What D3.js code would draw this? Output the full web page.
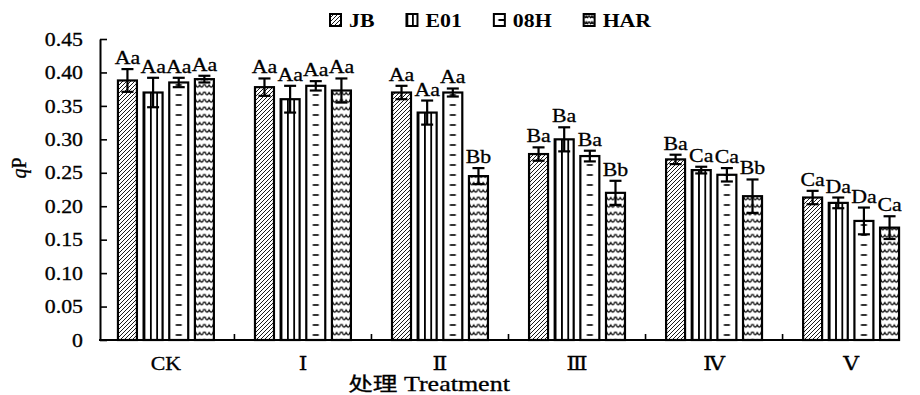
<!DOCTYPE html>
<html>
<head>
<meta charset="utf-8">
<script src="https://cdn.jsdelivr.net/npm/d3@7/dist/d3.min.js"></script>
<style>
  html, body { margin: 0; padding: 0; background: #fff; }
  svg { display: block; }
</style>
</head>
<body>
<svg id="chart" width="920" height="395"></svg>
<script>
// ---- data ----
const categories = ["CK", "Ⅰ", "Ⅱ", "Ⅲ", "Ⅳ", "Ⅴ"];
const seriesNames = ["JB", "E01", "08H", "HAR"];

const jbMean  = [0.388, 0.378, 0.370, 0.278, 0.270, 0.213];
const jbErr   = [0.017, 0.013, 0.010, 0.010, 0.007, 0.010];
const jbSig   = ["Aa", "Aa", "Aa", "Ba", "Ba", "Ca"];

const e01Mean = [0.370, 0.360, 0.340, 0.300, 0.254, 0.205];
const e01Err  = [0.022, 0.020, 0.018, 0.018, 0.005, 0.008];
const e01Sig  = ["Aa", "Aa", "Aa", "Ba", "Ca", "Da"];

const h08Mean = [0.385, 0.380, 0.370, 0.275, 0.247, 0.178];
const h08Err  = [0.007, 0.007, 0.006, 0.008, 0.010, 0.020];
const h08Sig  = ["Aa", "Aa", "Aa", "Ba", "Ca", "Da"];

const harMean = [0.390, 0.373, 0.245, 0.220, 0.215, 0.168];
const harErr  = [0.005, 0.018, 0.012, 0.018, 0.025, 0.017];
const harSig  = ["Aa", "Aa", "Bb", "Bb", "Bb", "Ca"];

const yTicks = [0, 0.05, 0.10, 0.15, 0.20, 0.25, 0.30, 0.35, 0.40, 0.45];
const yTitle = ["q", "P"];
const xTitleCn = "处理";
const xTitleEn = "Treatment";

// ---- setup ----
const seriesData = {
  "JB":  {mean: jbMean,  err: jbErr,  sig: jbSig},
  "E01": {mean: e01Mean, err: e01Err, sig: e01Sig},
  "08H": {mean: h08Mean, err: h08Err, sig: h08Sig},
  "HAR": {mean: harMean, err: harErr, sig: harSig}
};

const serif = "'Liberation Serif', 'Times New Roman', 'DejaVu Serif', serif";
const SX = 1.18; // horizontal stretch of the text in the reference

const svg = d3.select("#chart");
const defs = svg.append("defs");

const y = d3.scaleLinear().domain([0, 0.45]).range([340, 39]);
const x0 = d3.scaleBand().domain(categories).range([100, 917])
  .paddingInner(0.3).paddingOuter(0.131);
const x1 = d3.scaleBand().domain(seriesNames).range([0, x0.bandwidth()])
  .paddingInner(0.26);

const rows = [];
categories.forEach((c, i) => {
  seriesNames.forEach(s => {
    const d = seriesData[s];
    rows.push({cat: c, s: s, i: i, mean: d.mean[i], err: d.err[i], sig: d.sig[i]});
  });
});

// ---- patterns ----
(function () {
  const p = defs.append("pattern").attr("id", "pJB")
    .attr("patternUnits", "userSpaceOnUse").attr("width", 4).attr("height", 4);
  p.append("rect").attr("width", 4).attr("height", 4).attr("fill", "#fff");
  p.append("path").attr("d", "M0,4 L4,0 M-1,1 L1,-1 M3,5 L5,3")
    .attr("stroke", "#000").attr("stroke-width", 0.9);
})();

function makePattern(id, s, bx, bw, small) {
  if (s === "E01") {
    const w = small ? bw / 2 : bw / 3;
    const p = defs.append("pattern").attr("id", id)
      .attr("patternUnits", "userSpaceOnUse").attr("x", bx).attr("y", 0)
      .attr("width", w).attr("height", 10);
    p.append("rect").attr("width", w).attr("height", 10).attr("fill", "#fff");
    p.append("rect").attr("x", 0).attr("width", 1.8).attr("height", 10).attr("fill", "#000");
  } else if (s === "08H") {
    const h = small ? 12 : 10;
    const p = defs.append("pattern").attr("id", id)
      .attr("patternUnits", "userSpaceOnUse").attr("x", bx).attr("y", small ? 14 : 0)
      .attr("width", bw).attr("height", h);
    p.append("rect").attr("width", bw).attr("height", h).attr("fill", "#fff");
    if (small) {
      p.append("line").attr("x1", bw / 2 - 1).attr("x2", bw)
        .attr("y1", 6).attr("y2", 6).attr("stroke", "#000").attr("stroke-width", 2);
    } else {
      p.append("line").attr("x1", bw / 2 - 3).attr("x2", bw / 2 + 3)
        .attr("y1", 5).attr("y2", 5).attr("stroke", "#000").attr("stroke-width", 1.6);
    }
  } else if (s === "HAR") {
    const w = bw / 2, h = small ? 6 : 7.5;
    const p = defs.append("pattern").attr("id", id)
      .attr("patternUnits", "userSpaceOnUse").attr("x", bx).attr("y", small ? 14 : 0)
      .attr("width", w).attr("height", h);
    p.append("rect").attr("width", w).attr("height", h).attr("fill", "#fff");
    p.append("path")
      .attr("d", `M0.5,1.5 Q${w * 0.25},${h * 0.95} ${w * 0.5},${h * 0.35} Q${w * 0.75},${h * 0.95} ${w - 0.5},1.5`)
      .attr("fill", "none").attr("stroke", "#000").attr("stroke-width", 1.3);
  }
}

function fillFor(s, bx, bw, key, small) {
  if (s === "JB") return "url(#pJB)";
  const id = "p" + key;
  makePattern(id, s, bx, bw, small);
  return `url(#${id})`;
}

// ---- text helper ----
function sText(parent, x, yPos, str, size, anchor, weight) {
  return parent.append("text")
    .attr("transform", `translate(${x},${yPos}) scale(${SX},1)`)
    .attr("text-anchor", anchor || "middle")
    .attr("font-family", serif)
    .attr("font-size", size)
    .attr("font-weight", weight || "normal")
    .attr("fill", "#000")
    .attr("stroke", "#000").attr("stroke-width", weight === "bold" ? 0 : 0.3)
    .text(str);
}

// ---- bars ----
const bw = x1.bandwidth();
const gBars = svg.append("g");
rows.forEach((d, k) => {
  const bx = x0(d.cat) + x1(d.s);
  gBars.append("rect")
    .attr("x", bx).attr("y", y(d.mean))
    .attr("width", bw).attr("height", y(0) - y(d.mean))
    .attr("fill", fillFor(d.s, bx, bw, "b" + k, false))
    .attr("stroke", "#000").attr("stroke-width", 2.2);
});

// ---- error bars ----
const gErr = svg.append("g").attr("stroke", "#000").attr("stroke-width", 2.2);
rows.forEach(d => {
  const cx = x0(d.cat) + x1(d.s) + bw / 2;
  const yt = y(d.mean + d.err), yb = y(d.mean - d.err);
  gErr.append("line").attr("x1", cx).attr("x2", cx).attr("y1", yt).attr("y2", yb);
  gErr.append("line").attr("x1", cx - 6).attr("x2", cx + 6).attr("y1", yt).attr("y2", yt);
  gErr.append("line").attr("x1", cx - 6).attr("x2", cx + 6).attr("y1", yb).attr("y2", yb);
});

// ---- significance letters ----
const gSig = svg.append("g");
rows.forEach(d => {
  const cx = x0(d.cat) + x1(d.s) + bw / 2;
  sText(gSig, cx, y(d.mean + d.err) - 5, d.sig, 18.5);
});

// ---- y axis ----
const yAxis = d3.axisLeft(y).tickValues(yTicks).tickSizeInner(-7).tickSizeOuter(0)
  .tickPadding(17)
  .tickFormat(v => v === 0 ? "0" : d3.format(".2f")(v));
const gy = svg.append("g").attr("transform", "translate(100,0)").call(yAxis);
gy.select(".domain").attr("stroke", "#000").attr("stroke-width", 2);
gy.selectAll(".tick line").attr("stroke", "#000").attr("stroke-width", 1.6);
gy.selectAll(".tick text")
  .attr("font-family", serif).attr("font-size", 18.5).attr("fill", "#000")
  .attr("stroke", "#000").attr("stroke-width", 0.3)
  .attr("x", null).attr("dy", "0.33em")
  .attr("transform", `translate(-17,0) scale(${SX},1)`);

// ---- x axis ----
svg.append("line").attr("x1", 99).attr("x2", 900).attr("y1", y(0)).attr("y2", y(0))
  .attr("stroke", "#000").attr("stroke-width", 2);
const stepX = x0.step();
const gapHalf = stepX * x0.paddingInner() / 2;
categories.slice(0, categories.length - 1).forEach(c => {
  const tx = x0(c) + x0.bandwidth() + gapHalf;
  svg.append("line").attr("x1", tx).attr("x2", tx).attr("y1", y(0)).attr("y2", y(0) - 6)
    .attr("stroke", "#000").attr("stroke-width", 1.6);
});
const gXl = svg.append("g");
categories.forEach(c => {
  sText(gXl, x0(c) + x0.bandwidth() / 2, 370, c, 18.5);
});

// ---- axis titles ----
const ytl = svg.append("text")
  .attr("transform", "translate(26,168) rotate(-90)")
  .attr("text-anchor", "middle")
  .attr("font-family", serif).attr("font-size", 20).attr("fill", "#000")
  .attr("stroke", "#000").attr("stroke-width", 0.3);
ytl.append("tspan").attr("font-style", "italic").text(yTitle[0]);
ytl.append("tspan").text(yTitle[1]);

const xt = svg.append("text")
  .attr("transform", `translate(429,391) scale(1.3,1)`)
  .attr("text-anchor", "middle")
  .attr("font-size", 19).attr("fill", "#000")
  .attr("stroke", "#000").attr("stroke-width", 0.3);
xt.append("tspan").attr("font-family", "'Noto Sans CJK SC', sans-serif").text(xTitleCn);
xt.append("tspan").attr("font-family", serif).attr("font-size", 20).text(" " + xTitleEn);

// ---- legend ----
const gLeg = svg.append("g");
let lx = 330;
seriesNames.forEach((s, k) => {
  const sw = 11, sh = 12, sy = 14;
  gLeg.append("rect").attr("x", lx).attr("y", sy).attr("width", sw).attr("height", sh)
    .attr("fill", fillFor(s, lx, sw, "leg" + k, true))
    .attr("stroke", "#000").attr("stroke-width", 2);
  const t = sText(gLeg, lx + sw + 8, 27, s, 18.5, "start", "bold");
  const tw = t.node().getComputedTextLength() * SX;
  lx = lx + sw + 8 + tw + 32;
});
</script>
</body>
</html>
